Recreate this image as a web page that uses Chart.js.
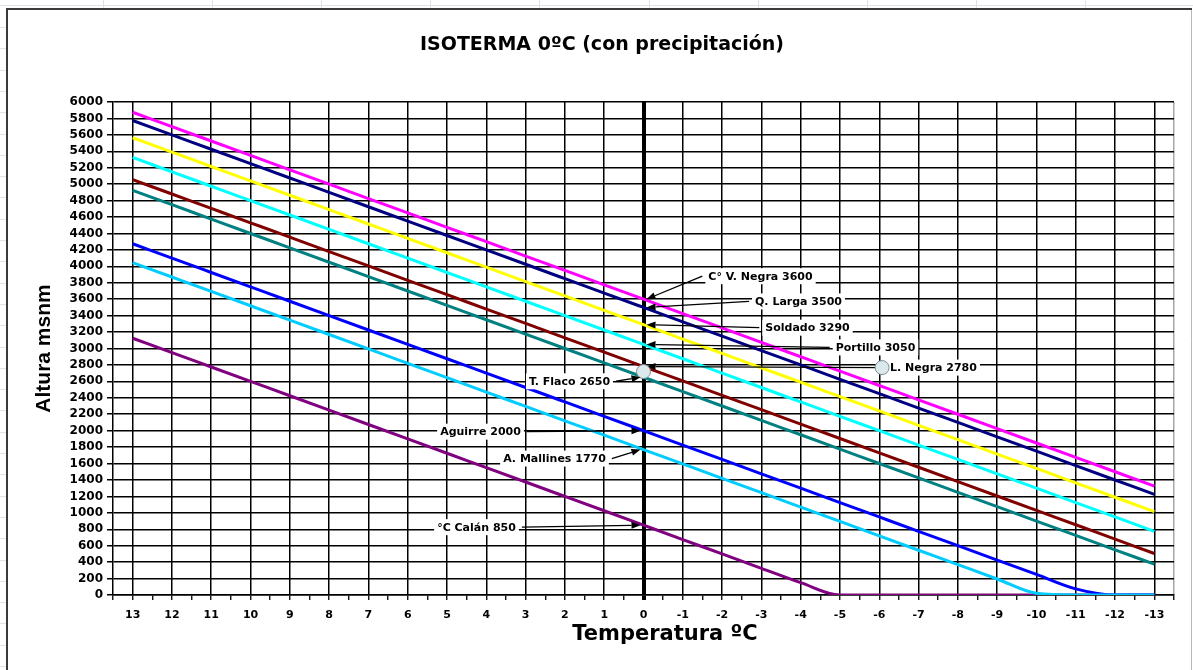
<!DOCTYPE html>
<html>
<head>
<meta charset="utf-8">
<title>Isoterma 0ºC (con precipitación)</title>
<script src="https://cdn.jsdelivr.net/npm/chart.js@4.4.1/dist/chart.umd.min.js"></script>
<style>
  html, body { margin: 0; padding: 0; background: #fff; overflow: hidden; }
  canvas { display: block; }
</style>
</head>
<body>
<canvas id="chart" width="1193" height="670"></canvas>
<script>
// Temperature categories (ºC), from warm to cold
const temps = [13, 12, 11, 10, 9, 8, 7, 6, 5, 4, 3, 2, 1, 0, -1, -2, -3, -4, -5, -6, -7, -8, -9, -10, -11, -12, -13];

// Altitude (m a.s.l.) of the 0ºC isotherm at each station, per temperature
const cVNegra   = [5875, 5700, 5525, 5350, 5175, 5000, 4825, 4650, 4475, 4300, 4125, 3950, 3775, 3600, 3425, 3250, 3075, 2900, 2725, 2550, 2375, 2200, 2025, 1850, 1675, 1500, 1325];
const qLarga    = [5775, 5600, 5425, 5250, 5075, 4900, 4725, 4550, 4375, 4200, 4025, 3850, 3675, 3500, 3325, 3150, 2975, 2800, 2625, 2450, 2275, 2100, 1925, 1750, 1575, 1400, 1225];
const soldado   = [5565, 5390, 5215, 5040, 4865, 4690, 4515, 4340, 4165, 3990, 3815, 3640, 3465, 3290, 3115, 2940, 2765, 2590, 2415, 2240, 2065, 1890, 1715, 1540, 1365, 1190, 1015];
const portillo  = [5325, 5150, 4975, 4800, 4625, 4450, 4275, 4100, 3925, 3750, 3575, 3400, 3225, 3050, 2875, 2700, 2525, 2350, 2175, 2000, 1825, 1650, 1475, 1300, 1125, 950, 775];
const lNegra    = [5055, 4880, 4705, 4530, 4355, 4180, 4005, 3830, 3655, 3480, 3305, 3130, 2955, 2780, 2605, 2430, 2255, 2080, 1905, 1730, 1555, 1380, 1205, 1030, 855, 680, 505];
const tFlaco    = [4925, 4750, 4575, 4400, 4225, 4050, 3875, 3700, 3525, 3350, 3175, 3000, 2825, 2650, 2475, 2300, 2125, 1950, 1775, 1600, 1425, 1250, 1075, 900, 725, 550, 375];
const aMallines = [4045, 3870, 3695, 3520, 3345, 3170, 2995, 2820, 2645, 2470, 2295, 2120, 1945, 1770, 1595, 1420, 1245, 1070, 895, 720, 545, 370, 195, 20, 0, 0, 0];
const aguirre   = [4275, 4100, 3925, 3750, 3575, 3400, 3225, 3050, 2875, 2700, 2525, 2350, 2175, 2000, 1825, 1650, 1475, 1300, 1125, 950, 775, 600, 425, 250, 75, 0, 0];
const calan     = [3125, 2950, 2775, 2600, 2425, 2250, 2075, 1900, 1725, 1550, 1375, 1200, 1025, 850, 675, 500, 325, 150, 0, 0, 0, 0, 0, 0, 0, 0, 0];

const stationNames = ['C° V. Negra', 'Q. Larga', 'Soldado', 'Portillo', 'L. Negra', 'T. Flaco', 'A. Mallines', 'Aguirre', '°C Calán'];
const stationSeries = [cVNegra, qLarga, soldado, portillo, lNegra, tFlaco, aMallines, aguirre, calan];
const stationColors = ['#ff00ff', '#000080', '#ffff00', '#00ffff', '#800000', '#008080', '#00ccff', '#0000ff', '#800080'];

// Altitude axis
const altMin = 0, altMax = 6000, altStep = 200;

// Callout placement (pixel offsets of each label from its point on the 0ºC line)
const callouts = [
  { series: 0, dx: 117, dy: -23 },
  { series: 1, dx: 155, dy: -6 },
  { series: 2, dx: 164, dy: 3 },
  { series: 3, dx: 232, dy: 3 },
  { series: 4, dx: 290, dy: 1, handles: true },
  { series: 5, dx: -74, dy: 4 },
  { series: 6, dx: -89, dy: 9 },
  { series: 7, dx: -163, dy: 1 },
  { series: 8, dx: -167, dy: 2 }
];

const zeroIdx = temps.indexOf(0);
const isInt = v => Math.abs(v - Math.round(v)) < 1e-9;
const tickFont = { family: '"DejaVu Sans"', size: 11, weight: 'bold' };

const datasets = stationSeries.map((vals, i) => ({
  label: stationNames[i],
  data: temps.map((t, j) => ({ x: t, y: vals[j] })),
  borderColor: stationColors[i],
  backgroundColor: stationColors[i],
  borderWidth: 3,
  pointRadius: 0,
  cubicInterpolationMode: 'monotone',
  fill: false
}));

function drawArrow(ctx, sx, sy, ex, ey) {
  const ang = Math.atan2(ey - sy, ex - sx);
  const len = 9, half = 3.5;
  const bx = ex - Math.cos(ang) * len, by = ey - Math.sin(ang) * len;
  ctx.beginPath();
  ctx.moveTo(sx, sy);
  ctx.lineTo(bx, by);
  ctx.stroke();
  ctx.beginPath();
  ctx.moveTo(ex, ey);
  ctx.lineTo(bx + Math.sin(ang) * half, by - Math.cos(ang) * half);
  ctx.lineTo(bx - Math.sin(ang) * half, by + Math.cos(ang) * half);
  ctx.closePath();
  ctx.fill();
}

function drawHandle(ctx, x, y) {
  ctx.beginPath();
  ctx.arc(x, y, 7, 0, Math.PI * 2);
  ctx.fillStyle = '#dbe8ec';
  ctx.fill();
  ctx.lineWidth = 1;
  ctx.strokeStyle = '#7d8e96';
  ctx.stroke();
}

// Worksheet background and the chart frame
const framePlugin = {
  id: 'frame',
  beforeDraw(chart) {
    const ctx = chart.ctx;
    const W = chart.width, H = chart.height;
    ctx.save();
    ctx.fillStyle = '#ffffff';
    ctx.fillRect(0, 0, W, H);
    ctx.strokeStyle = '#dde3ea';
    ctx.lineWidth = 1;
    ctx.beginPath();
    ctx.moveTo(0, 5.5); ctx.lineTo(W, 5.5);
    for (let x = 103; x < W; x += 109.1) { ctx.moveTo(Math.round(x) + 0.5, 0); ctx.lineTo(Math.round(x) + 0.5, 9); }
    for (let y = 27; y < H; y += 21.3) { ctx.moveTo(0, Math.round(y) + 0.5); ctx.lineTo(6, Math.round(y) + 0.5); }
    ctx.stroke();
    ctx.strokeStyle = '#b8b8b8';
    ctx.beginPath(); ctx.moveTo(1191.5, 9); ctx.lineTo(1191.5, H); ctx.stroke();
    ctx.strokeStyle = '#3a3a3a';
    ctx.lineWidth = 2;
    ctx.beginPath();
    ctx.moveTo(7, H); ctx.lineTo(7, 9); ctx.lineTo(1192, 9);
    ctx.stroke();
    ctx.restore();
  },
  afterDraw(chart) {
    const ctx = chart.ctx;
    ctx.save();
    ctx.fillStyle = '#000';
    ctx.textAlign = 'center';
    ctx.textBaseline = 'middle';
    ctx.font = 'bold 19px "DejaVu Sans"';
    ctx.fillText('ISOTERMA 0ºC (con precipitación)', 602, 45);
    ctx.font = 'bold 21px "DejaVu Sans"';
    ctx.fillText('Temperatura ºC', 665, 635);
    ctx.restore();
  }
};

// Station callouts pointing to the 0ºC line
const calloutPlugin = {
  id: 'callouts',
  afterDatasetsDraw(chart) {
    const ctx = chart.ctx;
    const xs = chart.scales.x, ys = chart.scales.y;
    ctx.save();
    ctx.font = 'bold 11px "DejaVu Sans"';
    ctx.textAlign = 'center';
    ctx.textBaseline = 'middle';
    callouts.forEach(c => {
      const ds = chart.data.datasets[c.series];
      const v = ds.data[zeroIdx].y;
      const tx = xs.getPixelForValue(0), ty = ys.getPixelForValue(v);
      const text = ds.label + ' ' + v;
      const w = ctx.measureText(text).width;
      const cx = tx + c.dx, cy = ty + c.dy;
      ctx.fillStyle = '#ffffff';
      ctx.fillRect(cx - w / 2 - 3, cy - 8, w + 6, 16);
      const right = c.dx > 0;
      const sx = right ? cx - w / 2 - 6 : cx + w / 2 + 6;
      const ex = right ? tx + 3 : tx - 3;
      ctx.strokeStyle = '#000';
      ctx.fillStyle = '#000';
      ctx.lineWidth = 1.3;
      drawArrow(ctx, sx, cy, ex, ty);
      ctx.fillStyle = '#000';
      ctx.fillText(text, cx, cy + 0.5);
      if (c.handles) {
        drawHandle(ctx, sx - 2, cy);
        drawHandle(ctx, tx, ty + 5);
      }
    });
    ctx.restore();
  }
};

new Chart(document.getElementById('chart'), {
  type: 'line',
  data: { datasets },
  plugins: [framePlugin, calloutPlugin],
  options: {
    responsive: false,
    animation: false,
    devicePixelRatio: 1,
    layout: { padding: { top: 102, right: 19, bottom: 0, left: 0 } },
    plugins: {
      legend: { display: false },
      title: { display: false },
      tooltip: { enabled: false }
    },
    scales: {
      x: {
        type: 'linear',
        reverse: true,
        min: temps[temps.length - 1] - 0.5,
        max: temps[0] + 0.5,
        afterFit(scale) { scale.height = 75; },
        ticks: {
          stepSize: 0.5,
          autoSkip: false,
          maxRotation: 0,
          minRotation: 0,
          padding: 9,
          color: '#000',
          font: tickFont,
          callback: v => (isInt(v) && temps.includes(Math.round(v))) ? String(Math.round(v)) : ''
        },
        grid: {
          color: ctx => {
            const v = ctx.tick ? ctx.tick.value : 1;
            if (v <= temps[temps.length - 1] - 0.5 + 1e-9) return '#a8a8a8';
            return isInt(v) ? '#000' : 'rgba(0,0,0,0)';
          },
          lineWidth: ctx => (ctx.tick && ctx.tick.value === 0) ? 4 : 1.5,
          tickColor: '#000',
          tickWidth: ctx => (ctx.tick && ctx.tick.value === 0) ? 4 : 1.3,
          tickLength: 5
        },
        border: { display: true, color: '#000', width: 1.5 }
      },
      y: {
        min: altMin,
        max: altMax,
        afterFit(scale) { scale.width = 113; },
        ticks: {
          stepSize: altStep,
          autoSkip: false,
          padding: 4,
          color: '#000',
          font: { family: '"DejaVu Sans"', size: 12, weight: 'bold' },
          callback: v => String(v)
        },
        grid: { color: '#000', lineWidth: 1.5, tickLength: 6, tickColor: '#000' },
        border: { display: true, color: '#000', width: 1.5 },
        title: {
          display: true,
          text: 'Altura msnm',
          color: '#000',
          font: { family: '"Liberation Sans"', size: 21, weight: 'bold' },
          padding: { top: 32, bottom: 0 }
        }
      }
    }
  }
});
</script>
</body>
</html>
